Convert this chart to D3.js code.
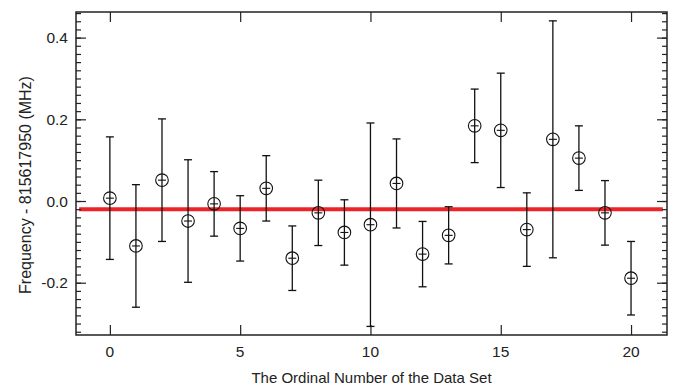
<!DOCTYPE html>
<html><head><meta charset="utf-8">
<script src="https://cdn.jsdelivr.net/npm/d3@7"></script>
<style>body{margin:0;background:#fff}svg{display:block}text{font-family:"Liberation Sans",Arial,Helvetica,sans-serif;fill:#222}</style>
</head><body><svg id="c" width="673" height="386"></svg>
<script>
const indices = d3.range(0, 21);
const values = [0.007,-0.110,0.051,-0.049,-0.007,-0.067,0.031,-0.140,-0.029,-0.077,-0.058,0.043,-0.130,-0.084,0.184,0.173,-0.070,0.151,0.105,-0.029,-0.189];
const errors = [0.150,0.150,0.150,0.150,0.079,0.080,0.080,0.079,0.080,0.080,0.249,0.109,0.080,0.070,0.090,0.140,0.090,0.290,0.079,0.079,0.090];
const meanValue = -0.020;
const xTicks = [0,5,10,15,20];
const yTicks = [-0.2,0.0,0.2,0.4];
const xLabel = "The Ordinal Number of the Data Set";
const yLabel = "Frequency - 815617950 (MHz)";

const L=76,R=667,T=12,B=335;
const svg=d3.select("#c");
const x=d3.scaleLinear().domain([-1.3,21.38]).range([L,R]);
const y=d3.scaleLinear().domain([-0.328,0.4627]).range([B,T]);
const ink="#222";

// mean line
svg.append("line").attr("x1",x(-1.18)).attr("x2",x(21.22)).attr("y1",y(meanValue)).attr("y2",y(meanValue))
  .attr("stroke","#ec2329").attr("stroke-width",4);

// axes
const minor=d3.range(-0.32,0.461,0.02).map(v=>+v.toFixed(2));
const ax=(g,axis)=>{g.call(axis);g.select(".domain").remove();g.selectAll("line").attr("stroke",ink).attr("stroke-width",1.2);};
svg.append("g").attr("transform",`translate(${L},0)`).call(g=>ax(g,d3.axisRight(y).tickValues(minor).tickSize(5).tickFormat("")));
svg.append("g").attr("transform",`translate(${L},0)`).call(g=>ax(g,d3.axisRight(y).tickValues(yTicks).tickSize(10).tickFormat("")));
svg.append("g").attr("transform",`translate(${R},0)`).call(g=>ax(g,d3.axisLeft(y).tickValues(minor).tickSize(5).tickFormat("")));
svg.append("g").attr("transform",`translate(${R},0)`).call(g=>ax(g,d3.axisLeft(y).tickValues(yTicks).tickSize(10).tickFormat("")));
svg.append("g").attr("transform",`translate(0,${B})`).call(g=>ax(g,d3.axisTop(x).tickValues(xTicks).tickSize(10).tickFormat("")));
svg.append("g").attr("transform",`translate(0,${T})`).call(g=>ax(g,d3.axisBottom(x).tickValues(xTicks).tickSize(10).tickFormat("")));

// tick labels
svg.append("g").selectAll("text").data(yTicks).join("text")
  .attr("x",L-8).attr("y",d=>y(d)).attr("dy","0.36em").attr("text-anchor","end").attr("font-size",15.5)
  .text(d=>d3.format(".1f")(d).replace("−","-"));
svg.append("g").selectAll("text").data(xTicks).join("text")
  .attr("x",d=>x(d)).attr("y",B+16).attr("dy","0.36em").attr("text-anchor","middle").attr("font-size",15.5)
  .text(d=>d);

// frame
svg.append("rect").attr("x",L).attr("y",T).attr("width",R-L).attr("height",B-T)
  .attr("fill","none").attr("stroke",ink).attr("stroke-width",1.5);

// error bars
const pts=indices.map((i,k)=>({i,v:values[k],e:errors[k]}));
const g=svg.append("g").attr("stroke","#111").attr("stroke-width",1.3).attr("fill","none");
const cap=4;
pts.forEach(p=>{
  const cx=x(p.i),cy=y(p.v),t=y(p.v+p.e),b=y(p.v-p.e);
  g.append("line").attr("x1",cx).attr("x2",cx).attr("y1",t).attr("y2",b);
  g.append("line").attr("x1",cx-cap).attr("x2",cx+cap).attr("y1",t).attr("y2",t);
  g.append("line").attr("x1",cx-cap).attr("x2",cx+cap).attr("y1",b).attr("y2",b);
  g.append("circle").attr("cx",cx).attr("cy",cy).attr("r",6.3).attr("stroke-width",1.1);
  g.append("line").attr("x1",cx-4).attr("x2",cx+4).attr("y1",cy).attr("y2",cy).attr("stroke-width",1.1);
});

// axis titles
svg.append("text").attr("x",(L+R)/2).attr("y",378).attr("dy","0.36em").attr("text-anchor","middle").attr("font-size",15).text(xLabel);
svg.append("text").attr("transform","translate(25,185) rotate(-90)").attr("dy","0.36em").attr("text-anchor","middle").attr("font-size",16).text(yLabel);
</script></body></html>
